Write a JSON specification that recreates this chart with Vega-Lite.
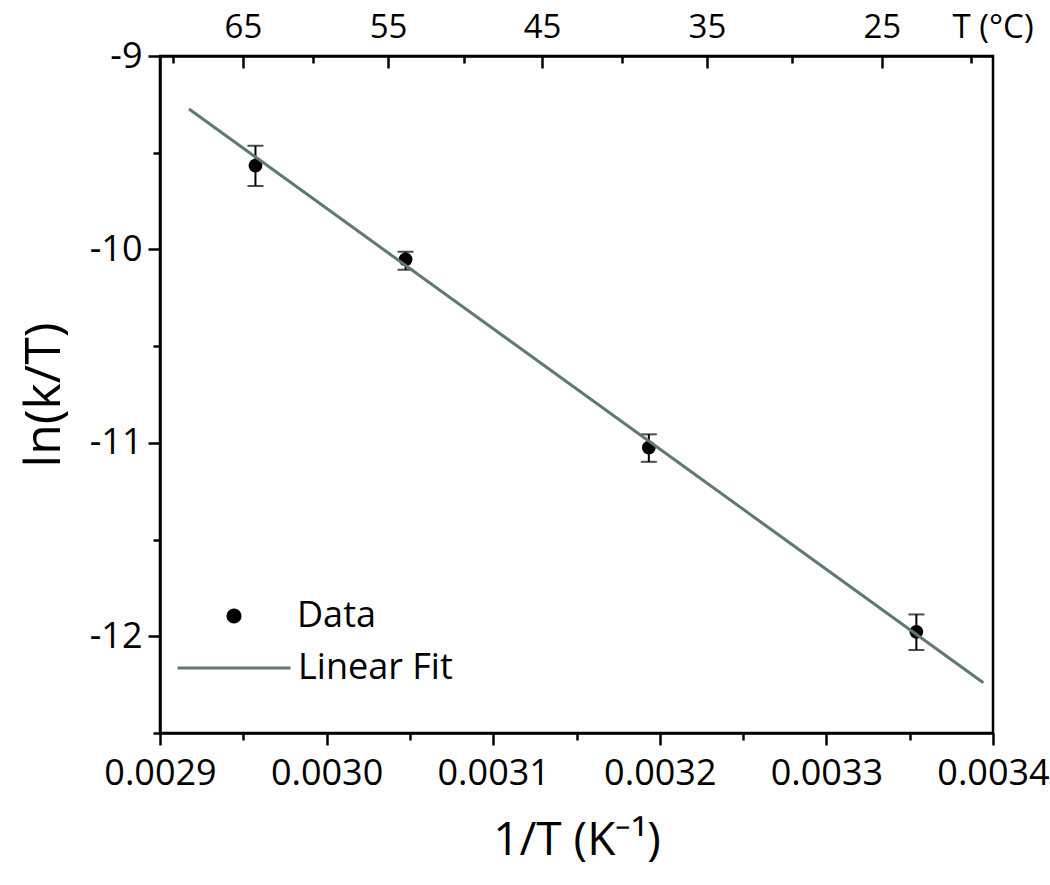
{
  "$schema": "https://vega.github.io/schema/vega-lite/v6.json",
  "width": 833,
  "height": 677,
  "autosize": {"type": "none"},
  "padding": {"left": 160, "top": 56, "right": 57, "bottom": 152},
  "background": "white",
  "config": {
    "font": "Open Sans",
    "view": {"stroke": "black", "strokeWidth": 2.5},
    "axis": {
      "grid": false,
      "domainColor": "black",
      "domainWidth": 2.5,
      "tickColor": "black",
      "tickWidth": 2.5,
      "labelColor": "black",
      "labelFont": "Open Sans",
      "labelFontSize": 36,
      "labelFlush": false,
      "labelOverlap": false,
      "titleFont": "Open Sans",
      "titleColor": "black",
      "titleFontWeight": "normal"
    },
    "legend": {
      "labelFont": "Open Sans",
      "labelFontSize": 36,
      "labelColor": "black",
      "padding": 0
    }
  },
  "datasets": {
    "pts": [
      {"x": 0.0029573, "y": -9.567, "lo": -9.672, "hi": -9.464},
      {"x": 0.0030474, "y": -10.051, "lo": -10.105, "hi": -10.012},
      {"x": 0.0031934, "y": -11.025, "lo": -11.098, "hi": -10.956},
      {"x": 0.003354, "y": -11.977, "lo": -12.071, "hi": -11.887}
    ],
    "fit": [
      {"x": 0.0029174, "y": -9.274},
      {"x": 0.0033942, "y": -12.24}
    ]
  },
  "layer": [
    {
      "data": {"name": "pts"},
      "mark": {
        "type": "errorbar",
        "color": "black",
        "ticks": {"size": 16, "thickness": 2, "color": "black"},
        "rule": {"strokeWidth": 2, "color": "black"}
      },
      "encoding": {
        "x": {"field": "x", "type": "quantitative", "scale": {"domain": [0.0029, 0.0034], "nice": false, "zero": false}, "axis": null},
        "y": {"field": "lo", "type": "quantitative", "scale": {"domain": [-12.5, -9], "nice": false, "zero": false}, "axis": null},
        "y2": {"field": "hi"}
      }
    },
    {
      "data": {"name": "pts"},
      "mark": {"type": "point", "filled": true, "opacity": 1, "size": 190},
      "encoding": {
        "x": {
          "field": "x", "type": "quantitative",
          "scale": {"domain": [0.0029, 0.0034], "nice": false, "zero": false},
          "axis": {
            "orient": "bottom",
            "values": [0.0029, 0.003, 0.0031, 0.0032, 0.0033, 0.0034],
            "format": ".4f",
            "tickSize": 12,
            "labelBaseline": "alphabetic",
            "labelPadding": 39,
            "title": "1/T (K⁻¹)",
            "titleFontSize": 46,
            "titlePadding": 27
          }
        },
        "y": {
          "field": "y", "type": "quantitative",
          "scale": {"domain": [-12.5, -9], "nice": false, "zero": false},
          "axis": {
            "orient": "left",
            "values": [-9, -10, -11, -12],
            "labelExpr": "'' + datum.value",
            "tickSize": 12,
            "labelPadding": 6,
            "title": "ln(k/T)",
            "titleFontSize": 50,
            "titlePadding": 20
          }
        },
        "fill": {
          "datum": "Data",
          "scale": {"range": ["black"]},
          "legend": {
            "orient": "none",
            "legendX": 56,
            "legendY": 542,
            "title": null,
            "symbolType": "circle",
            "symbolSize": 230,
            "symbolStrokeWidth": 0,
            "labelOffset": 45
          }
        }
      }
    },
    {
      "data": {"name": "fit"},
      "mark": {"type": "line", "strokeWidth": 3},
      "encoding": {
        "x": {
          "field": "x", "type": "quantitative",
          "scale": {"domain": [0.0029, 0.0034], "nice": false, "zero": false},
          "axis": {
            "orient": "top",
            "values": [0.0029498, 0.0030369, 0.0031293, 0.0032283, 0.0033333],
            "labelExpr": "datum.value < 0.003 ? '65' : datum.value < 0.00308 ? '55' : datum.value < 0.00318 ? '45' : datum.value < 0.0033 ? '35' : '25'",
            "tickSize": -12,
            "labelFontSize": 33,
            "labelBaseline": "alphabetic",
            "labelPadding": 31,
            "title": "T (°C)",
            "titleFontSize": 33,
            "titleAngle": 0,
            "titleAlign": "left",
            "titleBaseline": "alphabetic",
            "titleX": 792,
            "titleY": -19
          }
        },
        "y": {
          "field": "y", "type": "quantitative",
          "scale": {"domain": [-12.5, -9], "nice": false, "zero": false},
          "axis": null
        },
        "stroke": {
          "datum": "Linear Fit",
          "scale": {"range": ["#5f7777"]},
          "legend": {
            "orient": "none",
            "legendX": 16,
            "legendY": 554,
            "title": null,
            "symbolType": "stroke",
            "symbolSize": 12769,
            "symbolStrokeWidth": 3,
            "labelOffset": 6
          }
        }
      }
    },
    {
      "data": {"name": "pts"},
      "mark": {"type": "point", "opacity": 0},
      "encoding": {
        "x": {
          "field": "x", "type": "quantitative",
          "scale": {"domain": [0.0029, 0.0034], "nice": false, "zero": false},
          "axis": {"orient": "bottom", "values": [0.00295, 0.00305, 0.00315, 0.00325, 0.00335], "tickSize": 7, "labels": false, "domain": false, "title": null}
        },
        "y": {
          "field": "y", "type": "quantitative",
          "scale": {"domain": [-12.5, -9], "nice": false, "zero": false},
          "axis": {"orient": "left", "values": [-9.5, -10.5, -11.5, -12.5], "tickSize": 7, "labels": false, "domain": false, "title": null}
        }
      }
    },
    {
      "data": {"name": "pts"},
      "mark": {"type": "point", "opacity": 0},
      "encoding": {
        "x": {
          "field": "x", "type": "quantitative",
          "scale": {"domain": [0.0029, 0.0034], "nice": false, "zero": false},
          "axis": {"orient": "top", "values": [0.0029078, 0.0029918, 0.0030825, 0.0031774, 0.0032794, 0.0033867], "tickSize": -7, "labels": false, "domain": false, "title": null}
        },
        "y": {
          "field": "y", "type": "quantitative",
          "scale": {"domain": [-12.5, -9], "nice": false, "zero": false},
          "axis": null
        }
      }
    }
  ],
  "resolve": {"axis": {"x": "independent", "y": "independent"}}
}
